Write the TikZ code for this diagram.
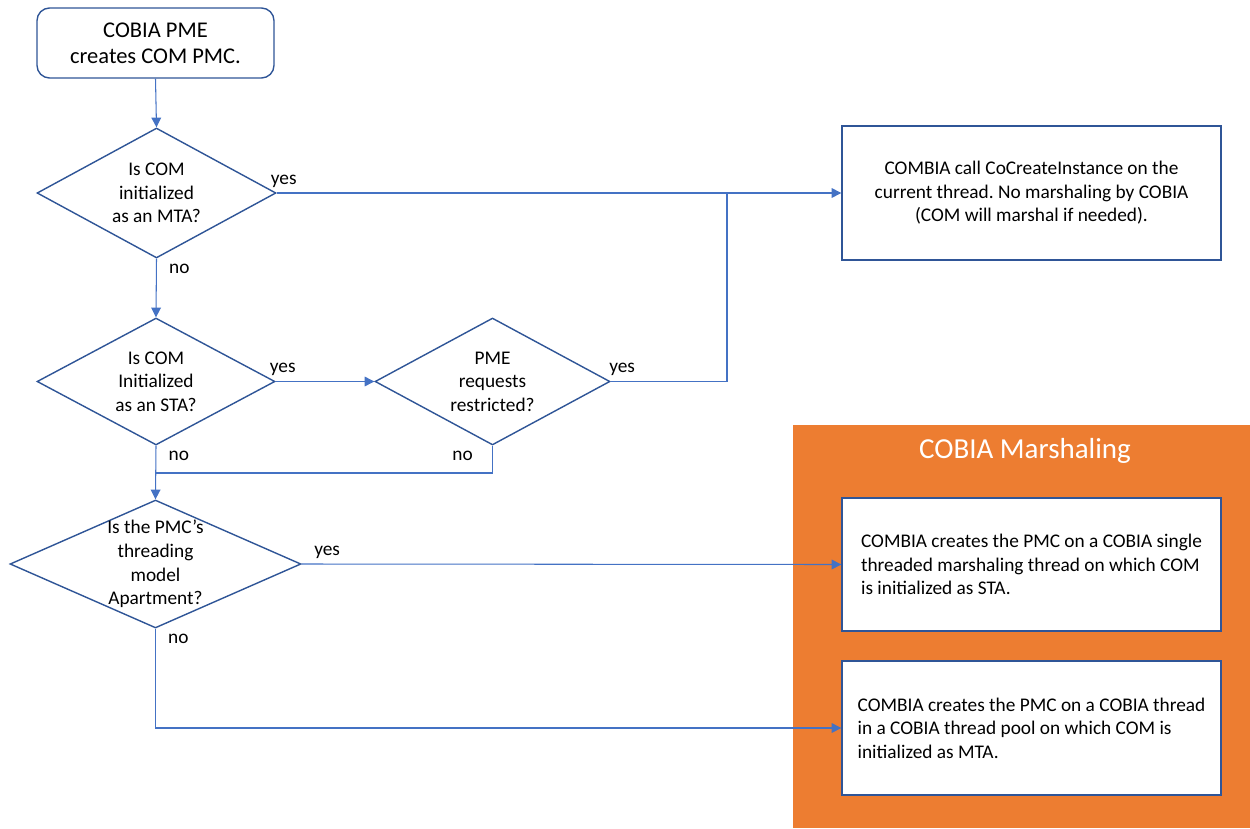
\documentclass[tikz,border=0pt]{standalone}
\usepackage{fontspec}
\setmainfont{Carlito}
\usetikzlibrary{shapes.geometric, arrows.meta, positioning, backgrounds}
\frenchspacing

\definecolor{lineblue}{HTML}{4472C4}
\definecolor{edgeblue}{HTML}{2F5597}
\definecolor{marshorange}{HTML}{ED7D31}

\begin{document}
\begin{tikzpicture}[
    x=0.02cm, y=-0.02cm,
    font=\fontsize{11pt}{13.4pt}\selectfont,
    startbox/.style={rectangle, draw=edgeblue, line width=0.8pt, fill=white, rounded corners=2.5mm, minimum width=4.74cm, minimum height=1.4cm, align=center, font=\fontsize{12.8pt}{15pt}\selectfont},
    decision/.style={diamond, draw=edgeblue, line width=0.8pt, fill=white, inner sep=0pt},
    question/.style={align=center},
    outbox/.style={rectangle, draw=edgeblue, line width=0.8pt, fill=white, minimum width=7.58cm, minimum height=2.68cm},
    conn/.style={draw=lineblue, line width=0.6pt},
    arrow/.style={conn, -{Triangle[length=5.5pt, width=5.5pt]}},
    lbl/.style={inner sep=3pt}
]
\useasboundingbox (0,0) rectangle (1250,828);

% marshaling panel
\fill[marshorange] (793,425) rectangle (1250,828);
\node[text=white, font=\fontsize{16.5pt}{20pt}\selectfont] (paneltitle) at (1025,451) {COBIA Marshaling};

\node[startbox] (start) at (155.5,43) {COBIA PME\\creates COM PMC.};

\node[decision, minimum width=4.78cm, minimum height=2.6cm,
      label={[question]center:Is COM\\initialized\\as an MTA?}] (mta) at (156.5,193) {};
\node[decision, minimum width=4.76cm, minimum height=2.54cm,
      label={[question]center:Is COM\\Initialized\\as an STA?}] (sta) at (156,381.5) {};
\node[decision, minimum width=4.7cm, minimum height=2.54cm,
      label={[question]center:PME\\requests\\restricted?}] (restr) at (492.5,381.5) {};
\node[decision, minimum width=5.82cm, minimum height=2.56cm,
      label={[question]center:Is the PMC’s\\threading\\model\\Apartment?}] (apt) at (155.5,564) {};

\node[outbox, align=center] (direct) at (1031.5,193) {COMBIA call CoCreateInstance on the\\current thread. No marshaling by COBIA\\(COM will marshal if needed).};
\node[outbox, minimum height=2.66cm, align=left] (single) at (1031.5,564.5) {COMBIA creates the PMC on a COBIA single\\threaded marshaling thread on which COM\\is initialized as STA.};
\node[outbox, align=left] (pool) at (1031.5,728) {COMBIA creates the PMC on a COBIA thread\\in a COBIA thread pool on which COM is\\initialized as MTA.};

\coordinate (join) at (727,193);
\coordinate (merge) at (156,473);

\draw[arrow] (start.south) -- (mta.north);
\draw[arrow] (mta.east) -- (direct.west);
\draw[arrow] (mta.south) -- (sta.north);
\draw[arrow] (sta.east) -- (restr.west);
\draw[conn] (restr.east) -| (join);
\draw[conn] (restr.south) |- (merge);
\draw[arrow] (sta.south) -- (apt.north);
\draw[arrow] (apt.east) -- (single.west);
\draw[arrow] (apt.south) |- (pool.west);

% branch labels
\node[lbl, above, xshift=4] at (mta.east) {yes};
\node[lbl, below right, xshift=4] at (mta.south) {no};
\node[lbl, above, xshift=4] at (sta.east) {yes};
\node[lbl, below right, xshift=4] at (sta.south) {no};
\node[lbl, above right, xshift=-4] at (restr.east) {yes};
\node[lbl, below left, xshift=-8] at (restr.south) {no};
\node[lbl, above right, xshift=4] at (apt.east) {yes};
\node[lbl, below right, xshift=4] at (apt.south) {no};

\end{tikzpicture}
\end{document}
